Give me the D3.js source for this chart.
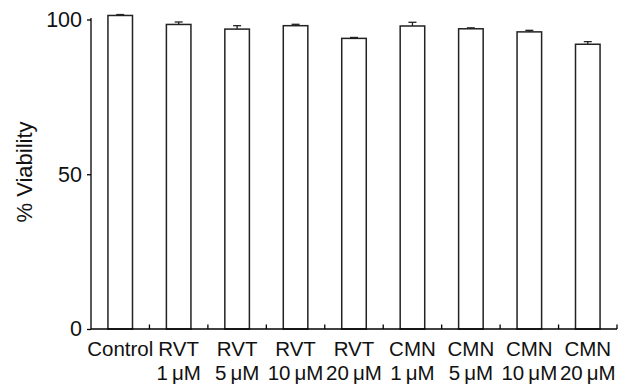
<!DOCTYPE html>
<html><head><meta charset="utf-8">
<script src="https://cdn.jsdelivr.net/npm/d3@7"></script>
<style>body{margin:0;background:#fff}svg{display:block}</style>
</head><body>
<svg id="c" width="629" height="387"></svg>
<script>
const categories = ["Control","RVT 1μM","RVT 5μM","RVT 10μM","RVT 20μM","CMN 1μM","CMN 5μM","CMN 10μM","CMN 20μM"];
const labelLine1 = ["Control","RVT","RVT","RVT","RVT","CMN","CMN","CMN","CMN"];
const labelLine2 = ["","1\u2009μM","5\u2009μM","10\u2009μM","20\u2009μM","1\u2009μM","5\u2009μM","10\u2009μM","20\u2009μM"];
const viability = [101.3, 98.4, 96.9, 98.0, 93.9, 97.9, 97.0, 96.0, 92.0];
const errors = [0.3, 0.8, 1.1, 0.45, 0.3, 1.2, 0.3, 0.5, 0.85];
const yTicks = [0, 50, 100];

const svg = d3.select("#c");
const font = "'Liberation Sans', Arial, Helvetica, sans-serif";
const x = d3.scaleBand().domain(categories).range([91, 617]).paddingInner(0.58).paddingOuter(0.29);
const y = d3.scaleLinear().domain([0, 100]).range([329, 19.5]);
const ink = "#222";

// bars
svg.append("g").selectAll("rect").data(categories).join("rect")
  .attr("x", d => x(d)).attr("width", x.bandwidth())
  .attr("y", (d,i) => y(viability[i])).attr("height", (d,i) => y(0) - y(viability[i]))
  .attr("fill", "#fff").attr("stroke", ink).attr("stroke-width", 1.5);

// error bars
const eg = svg.append("g").attr("stroke", ink).attr("stroke-width", 1.3);
categories.forEach((d,i) => {
  const cx = x(d) + x.bandwidth()/2;
  eg.append("line").attr("x1", cx).attr("x2", cx).attr("y1", y(viability[i])).attr("y2", y(viability[i]+errors[i]));
  eg.append("line").attr("x1", cx-4).attr("x2", cx+4).attr("y1", y(viability[i]+errors[i])).attr("y2", y(viability[i]+errors[i]));
});

// y axis
const yAxis = svg.append("g").attr("transform", "translate(91,0)")
  .call(d3.axisLeft(y).tickValues(yTicks).tickSize(4).tickPadding(5));
yAxis.select(".domain").attr("d", `M0,${y(100)-1.5}V${y(0)}`).attr("stroke", "#000").attr("stroke-width", 1.3);
yAxis.selectAll(".tick line").attr("stroke", "#000").attr("stroke-width", 1.3);
yAxis.selectAll("text").attr("font-family", font).attr("font-size", 21.5).attr("fill", "#111");

// x axis baseline and boundary ticks
const bounds = d3.range(1, categories.length + 1).map(k => 91 + k * (617 - 91) / categories.length);
const xg = svg.append("g").attr("stroke", "#000").attr("stroke-width", 1.3);
xg.append("line").attr("x1", 91).attr("x2", 617).attr("y1", y(0)).attr("y2", y(0));
bounds.forEach(b => xg.append("line").attr("x1", b).attr("x2", b).attr("y1", y(0)).attr("y2", y(0) - 4.5));

// x labels
const lg = svg.append("g").attr("font-family", font).attr("font-size", 20.5).attr("fill", "#111").attr("text-anchor", "middle");
categories.forEach((d,i) => {
  const cx = x(d) + x.bandwidth()/2;
  lg.append("text").attr("x", cx).attr("y", 356).text(labelLine1[i]);
  if (labelLine2[i]) lg.append("text").attr("x", cx).attr("y", 380).text(labelLine2[i]);
});

// y label
svg.append("text").attr("transform", "translate(32,172) rotate(-90)")
  .attr("text-anchor", "middle").attr("font-family", font).attr("font-size", 22).attr("fill", "#111")
  .text("% Viability");
</script>
</body></html>
